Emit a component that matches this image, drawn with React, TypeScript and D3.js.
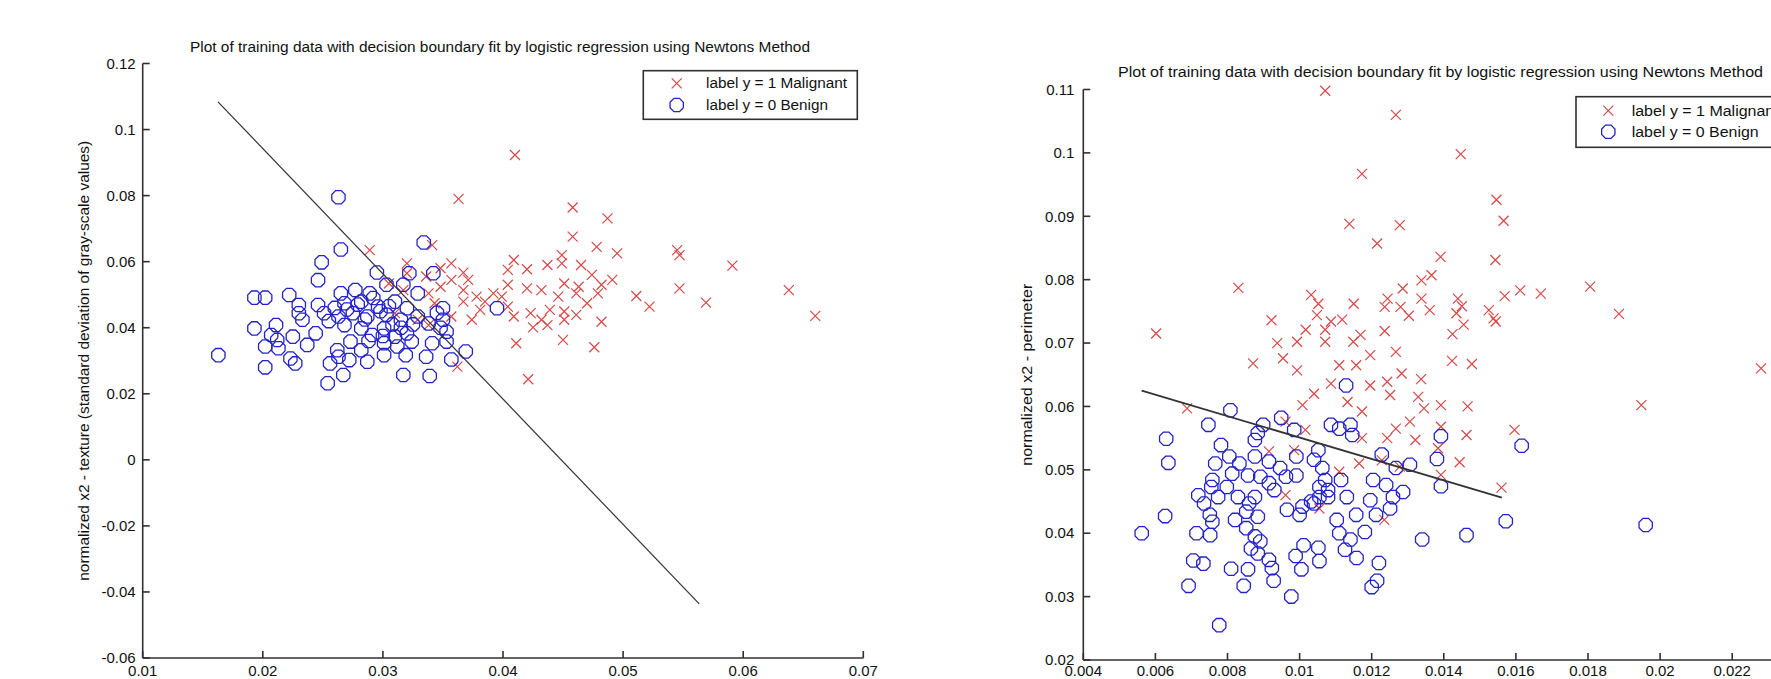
import React, { useEffect } from "react";
import * as d3 from "d3";

const TITLE = "Plot of training data with decision boundary fit by logistic regression using Newtons Method";
const LEGEND_LABELS = ["label y = 1 Malignant", "label y = 0 Benign"];

// ---------- Left plot: texture ----------
const texXTicks = [0.01, 0.02, 0.03, 0.04, 0.05, 0.06, 0.07];
const texYTicks = [-0.06, -0.04, -0.02, 0, 0.02, 0.04, 0.06, 0.08, 0.1, 0.12];
const texYLabel = "normalized x2 - texture (standard deviation of gray-scale values)";
const texBoundary: [number, number][] = [[0.01627, 0.1084], [0.05634, -0.0436]];
const texMalignant: [number, number][] = [
  [0.0410,0.0923],[0.0363,0.0790],[0.0458,0.0764],[0.0487,0.0731],[0.0458,0.0676],[0.0289,0.0635],
  [0.0341,0.0650],[0.0478,0.0645],[0.0495,0.0625],[0.0449,0.0620],[0.0449,0.0595],[0.0545,0.0635],
  [0.0547,0.0620],[0.0591,0.0588],[0.0547,0.0519],[0.0638,0.0514],[0.0660,0.0436],[0.0569,0.0476],
  [0.0522,0.0464],[0.0511,0.0496],[0.0482,0.0418],[0.0409,0.0605],[0.0404,0.0575],[0.0420,0.0577],
  [0.0437,0.0590],[0.0465,0.0590],[0.0474,0.0560],[0.0491,0.0545],[0.0482,0.0530],[0.0463,0.0524],
  [0.0451,0.0534],[0.0479,0.0504],[0.0461,0.0504],[0.0446,0.0494],[0.0432,0.0514],[0.0420,0.0519],
  [0.0404,0.0530],[0.0392,0.0504],[0.0378,0.0494],[0.0367,0.0514],[0.0371,0.0545],[0.0357,0.0545],
  [0.0367,0.0567],[0.0357,0.0595],[0.0348,0.0580],[0.0320,0.0595],[0.0320,0.0565],[0.0336,0.0555],
  [0.0348,0.0524],[0.0338,0.0504],[0.0367,0.0479],[0.0381,0.0454],[0.0404,0.0464],[0.0409,0.0434],
  [0.0423,0.0444],[0.0432,0.0424],[0.0439,0.0454],[0.0451,0.0449],[0.0461,0.0439],[0.0451,0.0424],
  [0.0437,0.0408],[0.0470,0.0474],[0.0399,0.0494],[0.0385,0.0479],[0.0374,0.0424],[0.0357,0.0434],
  [0.0343,0.0474],[0.0338,0.0408],[0.0329,0.0424],[0.0310,0.0444],[0.0305,0.0534],[0.0317,0.0514],
  [0.0411,0.0353],[0.0450,0.0363],[0.0476,0.0341],[0.0421,0.0244],[0.0362,0.0282],[0.0425,0.0401],
];
const texBenign: [number, number][] = [
  [0.0263,0.0795],[0.0265,0.0637],[0.0334,0.0658],[0.0249,0.0598],[0.0246,0.0544],[0.0342,0.0565],
  [0.0295,0.0567],[0.0322,0.0565],[0.0303,0.0530],[0.0317,0.0530],[0.0329,0.0504],[0.0395,0.0459],
  [0.0193,0.0491],[0.0202,0.0491],[0.0222,0.0499],[0.0230,0.0469],[0.0246,0.0469],[0.0265,0.0504],
  [0.0277,0.0514],[0.0289,0.0504],[0.0268,0.0474],[0.0282,0.0479],[0.0296,0.0464],[0.0310,0.0479],
  [0.0320,0.0459],[0.0350,0.0459],[0.0350,0.0424],[0.0193,0.0398],[0.0211,0.0408],[0.0233,0.0424],
  [0.0230,0.0444],[0.0251,0.0444],[0.0263,0.0434],[0.0275,0.0444],[0.0287,0.0434],[0.0303,0.0439],
  [0.0315,0.0424],[0.0329,0.0434],[0.0338,0.0413],[0.0268,0.0408],[0.0282,0.0398],[0.0301,0.0398],
  [0.0320,0.0383],[0.0353,0.0388],[0.0291,0.0378],[0.0310,0.0373],[0.0244,0.0383],[0.0207,0.0378],
  [0.0225,0.0373],[0.0163,0.0317],[0.0202,0.0343],[0.0202,0.0280],[0.0213,0.0338],[0.0223,0.0307],
  [0.0227,0.0292],[0.0212,0.0363],[0.0237,0.0348],[0.0254,0.0232],[0.0267,0.0257],[0.0256,0.0292],
  [0.0263,0.0312],[0.0272,0.0302],[0.0262,0.0332],[0.0282,0.0332],[0.0287,0.0297],[0.0301,0.0317],
  [0.0301,0.0353],[0.0312,0.0343],[0.0319,0.0317],[0.0317,0.0257],[0.0336,0.0312],[0.0341,0.0353],
  [0.0339,0.0254],[0.0357,0.0304],[0.0369,0.0328],[0.0353,0.0358],[0.0324,0.0358],[0.0273,0.0358],
  [0.0270,0.0455],[0.0285,0.0425],[0.0298,0.0450],[0.0308,0.0410],[0.0292,0.0490],[0.0279,0.0470],
  [0.0305,0.0465],[0.0315,0.0400],[0.0325,0.0410],[0.0300,0.0375],[0.0288,0.0360],[0.0260,0.0460],
  [0.0255,0.0420],[0.0345,0.0445],[0.0348,0.0400],
];

// ---------- Right plot: perimeter ----------
const perXTicks = [0.004, 0.006, 0.008, 0.01, 0.012, 0.014, 0.016, 0.018, 0.02, 0.022];
const perYTicks = [0.02, 0.03, 0.04, 0.05, 0.06, 0.07, 0.08, 0.09, 0.1, 0.11];
const perYLabel = "normalized x2 - perimeter";
const perBoundary: [number, number][] = [[0.00562, 0.0625], [0.01561, 0.0456]];
const perMalignant: [number, number][] = [
  [0.01071,0.1098],[0.01267,0.1060],[0.01447,0.0998],[0.01173,0.0967],[0.01546,0.0926],[0.01566,0.0893],
  [0.01138,0.0888],[0.01278,0.0886],[0.01215,0.0857],[0.01391,0.0836],[0.01543,0.0831],[0.01366,0.0807],
  [0.01338,0.0799],[0.00830,0.0787],[0.01806,0.0789],[0.01612,0.0783],[0.01669,0.0778],[0.01569,0.0774],
  [0.01886,0.0746],[0.01032,0.0776],[0.01052,0.0762],[0.01150,0.0762],[0.01286,0.0786],[0.01244,0.0770],
  [0.01236,0.0757],[0.01338,0.0770],[0.01280,0.0757],[0.01303,0.0743],[0.01361,0.0752],[0.01439,0.0770],
  [0.01450,0.0758],[0.01435,0.0747],[0.01525,0.0752],[0.01538,0.0739],[0.01544,0.0734],[0.01048,0.0744],
  [0.01118,0.0737],[0.01087,0.0734],[0.01071,0.0721],[0.01017,0.0721],[0.00922,0.0736],[0.00602,0.0715],
  [0.01455,0.0729],[0.01236,0.0719],[0.01169,0.0713],[0.01424,0.0714],
  [0.02280,0.0660],[0.01948,0.0602],[0.01596,0.0563],[0.01466,0.0600],[0.01463,0.0555],[0.01444,0.0512],
  [0.01423,0.0672],[0.01478,0.0667],[0.01392,0.0602],[0.01392,0.0568],[0.01384,0.0534],[0.01392,0.0492],
  [0.01560,0.0472],[0.01337,0.0643],[0.01329,0.0615],[0.01345,0.0597],[0.01306,0.0576],[0.01321,0.0547],
  [0.01283,0.0652],[0.01267,0.0686],[0.01243,0.0639],[0.01251,0.0618],[0.01267,0.0565],[0.01243,0.0550],
  [0.01228,0.0515],[0.01278,0.0505],[0.01196,0.0681],[0.01196,0.0633],[0.01173,0.0592],[0.01173,0.0550],
  [0.01157,0.0665],[0.01110,0.0665],[0.01133,0.0607],[0.01087,0.0636],[0.01040,0.0620],[0.01008,0.0602],
  [0.01016,0.0563],[0.00961,0.0576],[0.00954,0.0676],[0.00993,0.0657],[0.00871,0.0668],[0.00688,0.0597],
  [0.00985,0.0531],[0.01110,0.0497],[0.01165,0.0510],[0.00961,0.0460],[0.01055,0.0439],[0.01235,0.0421],
  [0.00915,0.0529],[0.01149,0.0702],[0.01071,0.0702],[0.00993,0.0702],[0.00938,0.0700],
];
const perBenign: [number, number][] = [
  [0.01129,0.0633],[0.00808,0.0594],[0.00747,0.0571],[0.00630,0.0549],[0.00636,0.0511],[0.00627,0.0427],
  [0.00562,0.0400],[0.01616,0.0538],[0.01392,0.0553],[0.01381,0.0517],[0.01392,0.0474],[0.01306,0.0508],
  [0.01267,0.0503],[0.01228,0.0524],[0.01572,0.0419],[0.01960,0.0413],[0.01463,0.0397],[0.01340,0.0390],
  [0.01087,0.0571],[0.01110,0.0565],[0.01141,0.0571],[0.01146,0.0555],[0.00985,0.0563],[0.00949,0.0582],
  [0.00899,0.0571],[0.00884,0.0558],[0.00876,0.0547],[0.00782,0.0539],[0.00766,0.0510],[0.00805,0.0521],
  [0.00833,0.0510],[0.00813,0.0494],[0.00857,0.0491],[0.00876,0.0521],[0.00915,0.0513],[0.00946,0.0503],
  [0.00962,0.0489],[0.00991,0.0521],[0.00991,0.0491],[0.01040,0.0516],[0.01052,0.0531],[0.01063,0.0503],
  [0.01071,0.0484],[0.01115,0.0484],[0.01079,0.0468],[0.01055,0.0457],[0.01040,0.0447],[0.01008,0.0442],
  [0.01000,0.0429],[0.00965,0.0437],[0.00915,0.0479],[0.00930,0.0468],[0.00891,0.0489],[0.00876,0.0457],
  [0.00860,0.0447],[0.00884,0.0426],[0.00852,0.0434],[0.00829,0.0457],[0.00821,0.0421],[0.00798,0.0473],
  [0.00758,0.0484],[0.00755,0.0473],[0.00774,0.0457],[0.00719,0.0460],[0.00735,0.0447],[0.00751,0.0429],
  [0.00758,0.0418],[0.00714,0.0400],[0.00752,0.0397],[0.00852,0.0408],[0.00876,0.0395],[0.00891,0.0387],
  [0.00865,0.0376],[0.00884,0.0368],[0.00915,0.0358],[0.00923,0.0345],[0.00857,0.0343],[0.00810,0.0344],
  [0.00705,0.0357],[0.00733,0.0352],[0.00692,0.0317],[0.00845,0.0317],[0.00928,0.0325],[0.00977,0.0300],
  [0.00777,0.0255],[0.01005,0.0343],[0.01011,0.0381],[0.01052,0.0377],[0.01055,0.0356],[0.00989,0.0364],
  [0.01126,0.0374],[0.01158,0.0361],[0.01110,0.0400],[0.01141,0.0390],[0.01181,0.0402],[0.01157,0.0429],
  [0.01131,0.0457],[0.01103,0.0421],[0.01196,0.0452],[0.01204,0.0484],[0.01240,0.0476],[0.01212,0.0429],
  [0.01251,0.0439],[0.01259,0.0457],[0.01287,0.0465],[0.01220,0.0353],[0.01215,0.0325],[0.01200,0.0315],
  [0.01079,0.0457],[0.01032,0.0450],[0.01055,0.0473],
];

const RED = "#d84848";
const BLUE = "#2323c8";
const AXIS = "#303030";
const FONT = "Liberation Sans, Arial, sans-serif";

function octagonPath(r: number): string {
  const pts: [number, number][] = d3.range(8).map((i) => {
    const a = (Math.PI / 8) + (i * Math.PI) / 4;
    return [r * Math.cos(a), r * Math.sin(a)];
  });
  return d3.line()(pts.concat([pts[0]])) as string;
}
const crossPath = (s: number) => `M${-s},${-s}L${s},${s}M${-s},${s}L${s},${-s}`;

type PanelProps = {
  xDomain: [number, number];
  xRange: [number, number];
  yDomain: [number, number];
  yRange: [number, number];
  xTicks: number[];
  yTicks: number[];
  xAxisEnd: number;
  malignant: [number, number][];
  benign: [number, number][];
  boundary: [number, number][];
  boundaryWidth: number;
  title: string;
  titleX: number;
  titleY: number;
  titleLen: number;
  yLabel: string;
  yLabelX: number;
  yLabelLen: number;
  legend: { x: number; y: number; w: number; h: number; mx: number; r1: number; r2: number; tx: number; len1: number; len2: number };
  tickFmt: (v: number) => string;
  labelGap: number;
  xLabelBaseline: number;
};

function Panel(p: PanelProps) {
  const x = d3.scaleLinear().domain(p.xDomain).range(p.xRange);
  const y = d3.scaleLinear().domain(p.yDomain).range(p.yRange);
  const oct = octagonPath(7.2);
  const cross = crossPath(5);
  const line = d3.line<[number, number]>().x((d) => x(d[0])).y((d) => y(d[1]));
  const x0 = p.xRange[0];
  const yb = p.yRange[0];
  const yt = p.yRange[1];
  const lg = p.legend;
  return (
    <g>
      <text x={p.titleX} y={p.titleY} dy="0.35em" textAnchor="middle" fontFamily={FONT} fontSize={14}
        textLength={p.titleLen} lengthAdjust="spacingAndGlyphs" fill="#111">{p.title}</text>
      <text transform={`translate(${p.yLabelX},${(yb + yt) / 2}) rotate(-90)`} dy="0.35em" textAnchor="middle"
        fontFamily={FONT} fontSize={14} textLength={p.yLabelLen} lengthAdjust="spacingAndGlyphs" fill="#111">{p.yLabel}</text>
      <g stroke={RED} strokeWidth={1.2} fill="none">
        {p.malignant.map((d, i) => (
          <path key={i} d={cross} transform={`translate(${x(d[0])},${y(d[1])})`} />
        ))}
      </g>
      <g stroke={BLUE} strokeWidth={1.3} fill="none">
        {p.benign.map((d, i) => (
          <path key={i} d={oct} transform={`translate(${x(d[0])},${y(d[1])})`} />
        ))}
      </g>
      <path d={line(p.boundary) as string} stroke="#333" strokeWidth={p.boundaryWidth} fill="none" />
      <g stroke={AXIS} strokeWidth={1.6} fill="none">
        <line x1={x0} x2={x0} y1={yt} y2={yb} />
        <line x1={x0} x2={p.xAxisEnd} y1={yb} y2={yb} />
        {p.xTicks.map((t, i) => (
          <line key={"xt" + i} x1={x(t)} x2={x(t)} y1={yb} y2={yb - 7} />
        ))}
        {p.yTicks.map((t, i) => (
          <line key={"yt" + i} x1={x0} x2={x0 + 7} y1={y(t)} y2={y(t)} />
        ))}
      </g>
      <g fontFamily={FONT} fontSize={15} fill="#111">
        {p.xTicks.map((t, i) => (
          <text key={"xl" + i} x={x(t)} y={p.xLabelBaseline} textAnchor="middle">{p.tickFmt(t)}</text>
        ))}
        {p.yTicks.map((t, i) => (
          <text key={"yl" + i} x={x0 - p.labelGap} y={y(t)} dy="0.35em" textAnchor="end">{p.tickFmt(t)}</text>
        ))}
      </g>
      <rect x={lg.x} y={lg.y} width={lg.w} height={lg.h} fill="#fff" stroke={AXIS} strokeWidth={1.6} />
      <path d={cross} transform={`translate(${lg.mx},${lg.r1})`} stroke={RED} strokeWidth={1.2} fill="none" />
      <path d={oct} transform={`translate(${lg.mx},${lg.r2})`} stroke={BLUE} strokeWidth={1.3} fill="none" />
      <g fontFamily={FONT} fontSize={14} fill="#111">
        <text x={lg.tx} y={lg.r1} dy="0.35em" textLength={lg.len1} lengthAdjust="spacingAndGlyphs">{LEGEND_LABELS[0]}</text>
        <text x={lg.tx} y={lg.r2} dy="0.35em" textLength={lg.len2} lengthAdjust="spacingAndGlyphs">{LEGEND_LABELS[1]}</text>
      </g>
    </g>
  );
}

const fmt = (v: number) => (v === 0 ? "0" : String(+v.toFixed(3)));

export default function App() {
  useEffect(() => {
    document.body.style.margin = "0";
    document.body.style.background = "#fff";
  }, []);
  return (
    <svg width={1771} height={679} viewBox="0 0 1771 679" style={{ display: "block", background: "#fff" }}>
      <Panel
        xDomain={[0.01, 0.07]} xRange={[142.7, 863.3]}
        yDomain={[-0.06, 0.12]} yRange={[658, 63.5]}
        xTicks={texXTicks} yTicks={texYTicks} xAxisEnd={863.3}
        malignant={texMalignant} benign={texBenign} boundary={texBoundary} boundaryWidth={1.2}
        title={TITLE} titleX={500} titleY={47} titleLen={620}
        yLabel={texYLabel} yLabelX={84} yLabelLen={440}
        legend={{ x: 643.3, y: 70.7, w: 214, h: 48.6, mx: 676.7, r1: 83.3, r2: 105, tx: 706, len1: 141, len2: 122 }}
        tickFmt={fmt} labelGap={7} xLabelBaseline={675.5}
      />
      <Panel
        xDomain={[0.004, 0.024]} xRange={[1083.3, 1804.3]}
        yDomain={[0.02, 0.11]} yRange={[660, 89.5]}
        xTicks={perXTicks} yTicks={perYTicks} xAxisEnd={1771}
        malignant={perMalignant} benign={perBenign} boundary={perBoundary} boundaryWidth={1.8}
        title={TITLE} titleX={1440.5} titleY={71.7} titleLen={645}
        yLabel={perYLabel} yLabelX={1027} yLabelLen={182}
        legend={{ x: 1576, y: 96.7, w: 230, h: 50.6, mx: 1608.3, r1: 110.7, r2: 131.7, tx: 1631.7, len1: 147, len2: 127 }}
        tickFmt={fmt} labelGap={9} xLabelBaseline={676}
      />
    </svg>
  );
}
